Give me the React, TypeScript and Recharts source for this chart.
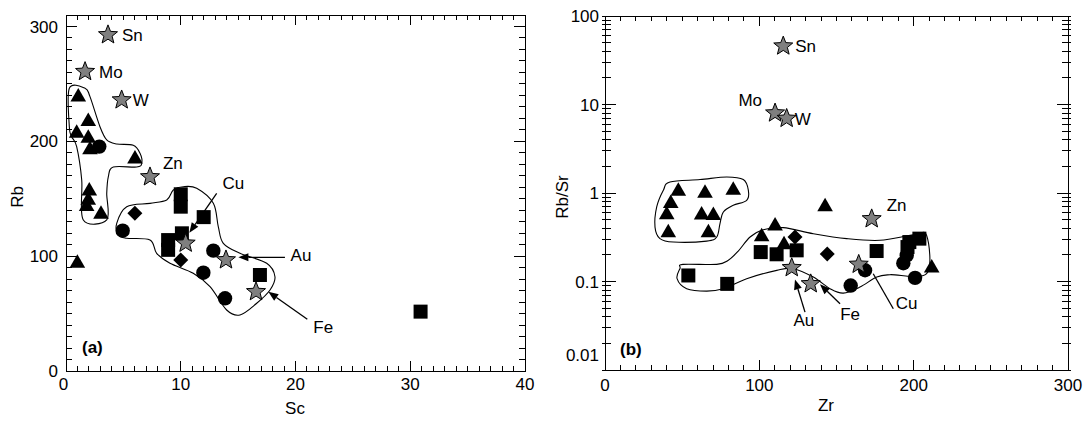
import React from 'react';
import { ScatterChart, Scatter, XAxis, YAxis, ReferenceArea } from 'recharts';

// ---------------- Panel (a): Rb vs Sc ----------------
const scRbTriangles = [
  { x: 1.07, y: 240 }, { x: 1.94, y: 218.6 }, { x: 0.93, y: 208.4 }, { x: 1.94, y: 204 },
  { x: 2.09, y: 194 }, { x: 6.01, y: 186 }, { x: 2.03, y: 158 }, { x: 1.94, y: 150 },
  { x: 1.8, y: 144.6 }, { x: 3.05, y: 137.9 }, { x: 0.99, y: 95.2 },
];
const scRbCircles = [
  { x: 2.9, y: 195.4 }, { x: 4.94, y: 122.2 }, { x: 12.84, y: 104.8 },
  { x: 11.97, y: 85.6 }, { x: 13.86, y: 63.3 },
];
const scRbDiamonds = [{ x: 6.0, y: 137.3 }, { x: 10.0, y: 96.7 }];
const scRbSquares = [
  { x: 10.0, y: 153.9 }, { x: 10.0, y: 143.1 }, { x: 12.0, y: 134 }, { x: 10.1, y: 119.9 },
  { x: 8.9, y: 114 }, { x: 8.9, y: 105.5 }, { x: 16.9, y: 83.6 }, { x: 30.9, y: 51.7 },
];
const scRbDeposits = [
  { name: 'Sn', x: 3.66, y: 292.7 }, { name: 'Mo', x: 1.66, y: 260.7 }, { name: 'W', x: 4.85, y: 236 },
  { name: 'Zn', x: 7.32, y: 169 }, { name: 'Cu', x: 10.43, y: 111.2 }, { name: 'Au', x: 13.94, y: 96.7 },
  { name: 'Fe', x: 16.56, y: 69 },
];
// field outlines (Sc, Rb)
const scRbFieldUpper = [
  { x: 0.29, y: 246.2 }, { x: 1.66, y: 246.2 }, { x: 2.09, y: 238.9 }, { x: 2.96, y: 212.7 },
  { x: 3.55, y: 201.2 }, { x: 4.42, y: 197.7 }, { x: 5.86, y: 196.5 }, { x: 6.45, y: 189.6 },
  { x: 6.6, y: 180.9 }, { x: 6.16, y: 177.6 }, { x: 4.12, y: 177.6 }, { x: 3.69, y: 169.2 },
  { x: 3.55, y: 154.7 }, { x: 3.55, y: 131.5 }, { x: 1.51, y: 131.5 }, { x: 1.37, y: 166.3 },
  { x: 0.93, y: 195.3 }, { x: 0.5, y: 204 }, { x: 0.29, y: 212.7 },
];
const scRbFieldLower = [
  { x: 4.42, y: 128.6 }, { x: 5.29, y: 143.1 }, { x: 7.32, y: 146.0 }, { x: 8.78, y: 148.9 },
  { x: 9.35, y: 157.6 }, { x: 10.22, y: 160.5 }, { x: 11.39, y: 159.1 }, { x: 12.84, y: 146.0 },
  { x: 13.27, y: 125.7 }, { x: 13.71, y: 111.2 }, { x: 15.16, y: 102.5 }, { x: 17.49, y: 93.8 },
  { x: 18.21, y: 82.1 }, { x: 17.78, y: 70.5 }, { x: 16.62, y: 59.0 }, { x: 15.16, y: 48.8 },
  { x: 14.0, y: 53.1 }, { x: 12.55, y: 73.4 }, { x: 11.09, y: 85.1 }, { x: 9.06, y: 93.8 },
  { x: 7.9, y: 102.5 }, { x: 7.32, y: 114.1 }, { x: 5.29, y: 115.6 }, { x: 4.56, y: 118.4 },
];
const scRbArrows = [
  { from: { x: 13.13, y: 154.7 }, to: { x: 10.75, y: 120.4 }, head: true },
  { from: { x: 19.08, y: 99.0 }, to: { x: 15.02, y: 99.0 }, head: true },
  { from: { x: 21.03, y: 45.0 }, to: { x: 17.63, y: 69.1 }, head: true },
];
const scRbNotes = [
  { text: 'Cu', x: 14.58, y: 163.7 }, { text: 'Au', x: 20.48, y: 101 }, { text: 'Fe', x: 22.42, y: 38.6 },
];
const scTicks = Array.from({ length: 41 }, (_, i) => i);
const scLabels = [0, 10, 20, 30, 40];
const rbTicks = Array.from({ length: 32 }, (_, i) => i * 10);
const rbLabels = [0, 100, 200, 300];

// ---------------- Panel (b): Rb/Sr vs Zr ----------------
const zrRatioTriangles = [
  { x: 47.5, y: 1.09 }, { x: 64.8, y: 1.03 }, { x: 83.1, y: 1.12 }, { x: 42.6, y: 0.79 },
  { x: 40, y: 0.59 }, { x: 62.6, y: 0.585 }, { x: 70.2, y: 0.58 }, { x: 41, y: 0.37 },
  { x: 67, y: 0.37 }, { x: 101.5, y: 0.333 }, { x: 110.2, y: 0.44 }, { x: 116, y: 0.27 },
  { x: 142.6, y: 0.726 }, { x: 211.7, y: 0.148 },
];
const zrRatioSquares = [
  { x: 54, y: 0.117 }, { x: 79.2, y: 0.094 }, { x: 100.9, y: 0.215 }, { x: 111.2, y: 0.203 },
  { x: 124.2, y: 0.225 }, { x: 176, y: 0.221 }, { x: 196, y: 0.245 }, { x: 197.2, y: 0.279 },
  { x: 203.7, y: 0.305 },
];
const zrRatioDiamonds = [{ x: 123.1, y: 0.318 }, { x: 144, y: 0.205 }];
const zrRatioCircles = [
  { x: 159.2, y: 0.09 }, { x: 168.5, y: 0.134 }, { x: 193.3, y: 0.161 },
  { x: 195.5, y: 0.197 }, { x: 200.9, y: 0.11 },
];
const zrRatioDeposits = [
  { name: 'Sn', x: 115.5, y: 45.7 }, { name: 'Mo', x: 110.2, y: 8.0 }, { name: 'W', x: 117.7, y: 6.95 },
  { name: 'Zn', x: 172.8, y: 0.51 }, { name: 'Au', x: 121, y: 0.143 }, { name: 'Fe', x: 133.3, y: 0.094 },
  { name: 'Cu', x: 164.4, y: 0.156 },
];
const zrRatioFieldUpper = [
  { x: 42.1, y: 1.332 }, { x: 61.6, y: 1.418 }, { x: 78.9, y: 1.517 }, { x: 89.6, y: 1.418 },
  { x: 92.9, y: 1.073 }, { x: 91.8, y: 0.827 }, { x: 83.1, y: 0.726 }, { x: 76.7, y: 0.61 },
  { x: 74.5, y: 0.451 }, { x: 72.4, y: 0.318 }, { x: 65.9, y: 0.286 }, { x: 44.3, y: 0.279 },
  { x: 35.6, y: 0.305 }, { x: 32.4, y: 0.412 }, { x: 33.5, y: 0.695 }, { x: 37.8, y: 1.073 },
];
const zrRatioFieldLower = [
  { x: 50.5, y: 0.156 }, { x: 72.4, y: 0.156 }, { x: 79.7, y: 0.173 }, { x: 86.2, y: 0.219 },
  { x: 94.0, y: 0.318 }, { x: 102.6, y: 0.385 }, { x: 115.5, y: 0.406 }, { x: 135.0, y: 0.347 },
  { x: 156.6, y: 0.305 }, { x: 178.2, y: 0.292 }, { x: 199.8, y: 0.336 }, { x: 208.4, y: 0.332 },
  { x: 208.4, y: 0.1225 }, { x: 184.7, y: 0.1194 }, { x: 176.1, y: 0.1122 }, { x: 165.2, y: 0.0865 },
  { x: 154.4, y: 0.0739 }, { x: 145.8, y: 0.0829 }, { x: 135.0, y: 0.1122 }, { x: 122.0, y: 0.1396 },
  { x: 111.3, y: 0.1337 }, { x: 91.8, y: 0.1076 }, { x: 76.7, y: 0.0829 }, { x: 65.9, y: 0.0778 },
  { x: 52.9, y: 0.0829 }, { x: 46.7, y: 0.1076 }, { x: 48.6, y: 0.1405 },
];
const zrRatioArrows = [
  { from: { x: 129.6, y: 0.04506 }, to: { x: 123.1, y: 0.1056 }, head: true },
  { from: { x: 152.3, y: 0.0561 }, to: { x: 139.3, y: 0.0928 }, head: true },
  { from: { x: 186.8, y: 0.0492 }, to: { x: 173.8, y: 0.1225 }, head: false },
];
const zrRatioNotes = [
  { text: 'Au', x: 128.9, y: 0.0368 }, { text: 'Fe', x: 158.8, y: 0.0435 }, { text: 'Cu', x: 195.5, y: 0.0573 },
];
const zrTicks = Array.from({ length: 31 }, (_, i) => i * 10);
const zrLabels = [0, 100, 200, 300];
const ratioDecades = [0.01, 0.1, 1, 10, 100];
const ratioTicks = ratioDecades.flatMap((d, i) =>
  i === ratioDecades.length - 1 ? [d] : [1, 2, 3, 4, 5, 6, 7, 8, 9].map((m) => Number((m * d).toPrecision(2)))
);

// ---------------- drawing helpers ----------------
const FONT = 'Liberation Sans, Arial, Helvetica, sans-serif';
const FS = 17;

type Box = { top: number; bottom: number; left: number; right: number };

// smooth closed curve (Catmull-Rom) through pixel points
const closedPath = (pts: { x: number; y: number }[]) => {
  const n = pts.length;
  let d = `M${pts[0].x},${pts[0].y}`;
  for (let i = 0; i < n; i++) {
    const p0 = pts[(i - 1 + n) % n];
    const p1 = pts[i];
    const p2 = pts[(i + 1) % n];
    const p3 = pts[(i + 2) % n];
    const c1x = p1.x + (p2.x - p0.x) / 6;
    const c1y = p1.y + (p2.y - p0.y) / 6;
    const c2x = p2.x - (p3.x - p1.x) / 6;
    const c2y = p2.y - (p3.y - p1.y) / 6;
    d += ` C${c1x},${c1y} ${c2x},${c2y} ${p2.x},${p2.y}`;
  }
  return d + ' Z';
};

const Outline = (props: any) => (
  <path d={closedPath(props.points)} fill="none" stroke="#000" strokeWidth={1.1} />
);

const arrowLine = (head: boolean) => (props: any) => {
  const [a, b] = props.points;
  const dx = b.x - a.x;
  const dy = b.y - a.y;
  const len = Math.hypot(dx, dy) || 1;
  const ux = dx / len;
  const uy = dy / len;
  const hl = head ? 10 : 0;
  const bx = b.x - ux * hl;
  const by = b.y - uy * hl;
  return (
    <g>
      <line x1={a.x} y1={a.y} x2={bx} y2={by} stroke="#000" strokeWidth={1.3} />
      {head && (
        <polygon
          points={`${b.x},${b.y} ${bx - uy * 4},${by + ux * 4} ${bx + uy * 4},${by - ux * 4}`}
          fill="#000"
        />
      )}
    </g>
  );
};

const Hidden = () => <g />;

const Triangle = (p: any) => (
  <polygon
    points={`${p.cx},${p.cy - 7.5} ${p.cx - 7.8},${p.cy + 6} ${p.cx + 7.8},${p.cy + 6}`}
    fill="#000"
  />
);
const Square = (p: any) => <rect x={p.cx - 7} y={p.cy - 7} width={14} height={14} fill="#000" />;
const Circle = (p: any) => <circle cx={p.cx} cy={p.cy} r={7.2} fill="#000" />;
const Diamond = (p: any) => (
  <polygon
    points={`${p.cx},${p.cy - 7.5} ${p.cx + 7.5},${p.cy} ${p.cx},${p.cy + 7.5} ${p.cx - 7.5},${p.cy}`}
    fill="#000"
  />
);

const starPoints = (cx: number, cy: number, R: number, r: number) => {
  const pts: string[] = [];
  for (let i = 0; i < 10; i++) {
    const rad = i % 2 === 0 ? R : r;
    const ang = -Math.PI / 2 + (i * Math.PI) / 5;
    pts.push(`${cx + rad * Math.cos(ang)},${cy + rad * Math.sin(ang)}`);
  }
  return pts.join(' ');
};

type Offs = Record<string, { dx: number; dy: number; anchor?: string }>;

const makeStar = (offsets: Offs) => (p: any) => {
  const name = p.payload?.name as string;
  const o = offsets[name];
  return (
    <g>
      <polygon points={starPoints(p.cx, p.cy, 10, 4.3)} fill="#7f7f7f" stroke="#000" strokeWidth={1} />
      {o && (
        <text
          x={p.cx + o.dx}
          y={p.cy + o.dy}
          dy="0.36em"
          textAnchor={o.anchor || 'start'}
          fontSize={FS}
          fontFamily={FONT}
          fill="#000"
        >
          {name}
        </text>
      )}
    </g>
  );
};

const NoteText = (p: any) => (
  <text x={p.cx} y={p.cy} dy="0.36em" textAnchor="middle" fontSize={FS} fontFamily={FONT} fill="#000">
    {p.payload?.text}
  </text>
);

// bottom ticks, mirrored on the top frame edge, pointing inward
const makeXTick = (box: Box, majors: number[], labelY: number, nudge: Record<number, number> = {}) =>
  (props: any) => {
    const v = props.payload.value;
    const x = props.x;
    const major = majors.includes(v);
    const len = major ? 10 : 5;
    return (
      <g>
        <line x1={x} x2={x} y1={box.bottom} y2={box.bottom - len} stroke="#000" shapeRendering="crispEdges" />
        <line x1={x} x2={x} y1={box.top} y2={box.top + len} stroke="#000" shapeRendering="crispEdges" />
        {major && (
          <text x={x + (nudge[v] || 0)} y={labelY} textAnchor="middle" fontSize={FS} fontFamily={FONT} fill="#000">
            {v}
          </text>
        )}
      </g>
    );
  };

// left ticks, mirrored on the right frame edge, pointing inward
const makeYTick = (
  box: Box,
  majors: number[],
  majorLen: number,
  minorLen: number,
  outside: number,
  labelGap: number,
  nudge: Record<string, number> = {}
) =>
  (props: any) => {
    const v = props.payload.value;
    const y = props.y;
    const major = majors.includes(v);
    const len = major ? majorLen : minorLen;
    return (
      <g>
        <line x1={box.left - outside} x2={box.left + len} y1={y} y2={y} stroke="#000" shapeRendering="crispEdges" />
        <line x1={box.right + outside} x2={box.right - len} y1={y} y2={y} stroke="#000" shapeRendering="crispEdges" />
        {major && (
          <text
            x={box.left - labelGap}
            y={y + (nudge[String(v)] || 0)}
            dy="0.36em"
            textAnchor="end"
            fontSize={FS}
            fontFamily={FONT}
            fill="#000"
          >
            {v}
          </text>
        )}
      </g>
    );
  };

// ---------------- layout ----------------
const H = 421;
const A_W = 540;
const A_MARGIN = { top: 15, right: 15, bottom: 20, left: 0 };
const A_YW = 66;
const A_XH = 30;
const A_BOX: Box = { top: 15, bottom: H - 20 - 30, left: 66, right: A_W - 15 };

const B_W = 546;
const B_MARGIN = { top: 16, right: 18, bottom: 21, left: 0 };
const B_YW = 65;
const B_XH = 30;
const B_BOX: Box = { top: 16, bottom: H - 21 - 30, left: 65, right: B_W - 18 };

const aStarLabels: Offs = {
  Sn: { dx: 14, dy: 0 },
  Mo: { dx: 14, dy: 0 },
  W: { dx: 11, dy: 0 },
  Zn: { dx: 13, dy: -14 },
};
const bStarLabels: Offs = {
  Sn: { dx: 12, dy: 0 },
  Mo: { dx: -13, dy: -13, anchor: 'end' },
  W: { dx: 8, dy: 0 },
  Zn: { dx: 15, dy: -14 },
};

const Markers = ({ sets }: { sets: any[] }) => null;

export default function App() {
  return (
    <div style={{ position: 'fixed', left: 0, top: 0, width: 1086, height: H, background: '#fff' }}>
      <div style={{ position: 'absolute', left: 0, top: 0 }}>
        <ScatterChart width={A_W} height={H} margin={A_MARGIN}>
          <XAxis
            type="number"
            dataKey="x"
            domain={[0, 40]}
            ticks={scTicks}
            interval={0}
            height={A_XH}
            tickSize={0}
            axisLine={false}
            tickLine={false}
            tick={makeXTick(A_BOX, scLabels, A_BOX.bottom + 19, { 0: -2.5 })}
          />
          <YAxis
            type="number"
            dataKey="y"
            domain={[0, 310]}
            ticks={rbTicks}
            interval={0}
            width={A_YW}
            tickSize={0}
            axisLine={false}
            tickLine={false}
            tick={makeYTick(A_BOX, rbLabels, 11, 6, 0, 8)}
          />
          <ReferenceArea x1={0} x2={40} y1={0} y2={310} fill="none" stroke="#000" strokeWidth={1} fillOpacity={0} shapeRendering="crispEdges" />

          <Scatter data={scRbFieldUpper} shape={Hidden} line={Outline} isAnimationActive={false} legendType="none" />
          <Scatter data={scRbFieldLower} shape={Hidden} line={Outline} isAnimationActive={false} legendType="none" />

          <Scatter data={scRbTriangles} shape={Triangle} isAnimationActive={false} />
          <Scatter data={scRbSquares} shape={Square} isAnimationActive={false} />
          <Scatter data={scRbCircles} shape={Circle} isAnimationActive={false} />
          <Scatter data={scRbDiamonds} shape={Diamond} isAnimationActive={false} />

          {scRbArrows.map((a, i) => (
            <Scatter key={`aa${i}`} data={[a.from, a.to]} shape={Hidden} line={arrowLine(a.head)} isAnimationActive={false} />
          ))}
          <Scatter data={scRbDeposits} shape={makeStar(aStarLabels)} isAnimationActive={false} />
          <Scatter data={scRbNotes} shape={NoteText} isAnimationActive={false} />

          <text transform="translate(17,197) rotate(-90)" textAnchor="middle" dy="0.36em" fontSize={FS} fontFamily={FONT} fill="#000">
            Rb
          </text>
          <text x={295} y={408} dy="0.36em" textAnchor="middle" fontSize={FS} fontFamily={FONT} fill="#000">
            Sc
          </text>
          <text x={82} y={347} dy="0.36em" fontSize={FS} fontWeight="bold" fontFamily={FONT} fill="#000">
            (a)
          </text>
        </ScatterChart>
      </div>

      <div style={{ position: 'absolute', left: A_W, top: 0 }}>
        <ScatterChart width={B_W} height={H} margin={B_MARGIN}>
          <XAxis
            type="number"
            dataKey="x"
            domain={[0, 300]}
            ticks={zrTicks}
            interval={0}
            height={B_XH}
            tickSize={0}
            axisLine={false}
            tickLine={false}
            tick={makeXTick(B_BOX, zrLabels, B_BOX.bottom + 21)}
          />
          <YAxis
            type="number"
            dataKey="y"
            scale="log"
            domain={[0.01, 100]}
            ticks={ratioTicks}
            interval={0}
            width={B_YW}
            tickSize={0}
            axisLine={false}
            tickLine={false}
            tick={makeYTick(B_BOX, ratioDecades, 11, 6, 3, 6, { '0.01': -15 })}
          />
          <ReferenceArea x1={0} x2={300} y1={0.01} y2={100} fill="none" stroke="#000" strokeWidth={1} fillOpacity={0} shapeRendering="crispEdges" />

          <Scatter data={zrRatioFieldUpper} shape={Hidden} line={Outline} isAnimationActive={false} legendType="none" />
          <Scatter data={zrRatioFieldLower} shape={Hidden} line={Outline} isAnimationActive={false} legendType="none" />

          <Scatter data={zrRatioTriangles} shape={Triangle} isAnimationActive={false} />
          <Scatter data={zrRatioSquares} shape={Square} isAnimationActive={false} />
          <Scatter data={zrRatioCircles} shape={Circle} isAnimationActive={false} />
          <Scatter data={zrRatioDiamonds} shape={Diamond} isAnimationActive={false} />

          {zrRatioArrows.map((a, i) => (
            <Scatter key={`ba${i}`} data={[a.from, a.to]} shape={Hidden} line={arrowLine(a.head)} isAnimationActive={false} />
          ))}
          <Scatter data={zrRatioDeposits} shape={makeStar(bStarLabels)} isAnimationActive={false} />
          <Scatter data={zrRatioNotes} shape={NoteText} isAnimationActive={false} />

          <text transform="translate(22,197) rotate(-90)" textAnchor="middle" dy="0.36em" fontSize={FS} fontFamily={FONT} fill="#000">
            Rb/Sr
          </text>
          <text x={286} y={405} dy="0.36em" textAnchor="middle" fontSize={FS} fontFamily={FONT} fill="#000">
            Zr
          </text>
          <text x={80} y={349} dy="0.36em" fontSize={FS} fontWeight="bold" fontFamily={FONT} fill="#000">
            (b)
          </text>
        </ScatterChart>
      </div>
    </div>
  );
}
